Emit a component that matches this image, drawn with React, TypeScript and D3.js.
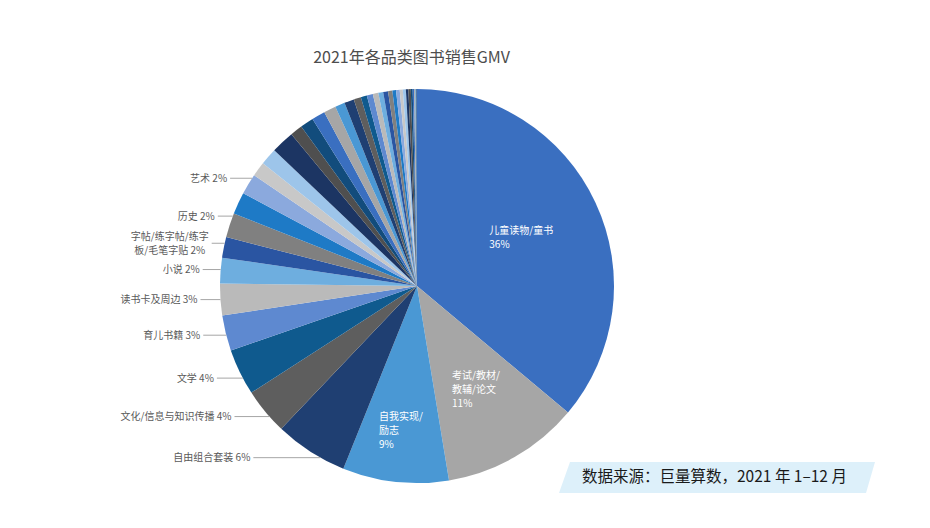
import { useEffect, useRef } from 'react';
import * as d3 from 'd3';

// =============================================================================
// Data
// =============================================================================

// '\n' marks where the label text wraps in the chart
const CATEGORIES = [
  '儿童读物/童书',
  '考试/教材/\n教辅/论文',
  '自我实现/\n励志',
  '自由组合套装',
  '文化/信息与知识传播',
  '文学',
  '育儿书籍',
  '读书卡及周边',
  '小说',
  '字帖/练字帖/练字\n板/毛笔字贴',
  '历史',
  '艺术',
  ...Array.from({ length: 28 }, (_, i) => `其他-${String(i + 1).padStart(2, '0')}`),
];

// GMV share, %
const GMV_SHARE = [
  36.1, 11.3, 8.7, 6.0, 3.8, 3.8, 2.9, 2.6, 2.1, 1.7, 2.0, 1.8, 1.7, 1.2,
  1.4, 1.9, 1.0, 1.1, 1.1, 1.0, 0.8, 0.8, 0.6, 0.5, 0.5, 0.45, 0.4, 0.4,
  0.35, 0.3, 0.3, 0.25, 0.25, 0.2, 0.2, 0.15, 0.12, 0.1, 0.08, 0.05,
];

const TITLE = '2021年各品类图书销售GMV';
const SOURCE = '数据来源：巨量算数，2021 年 1–12 月';

// =============================================================================
// Constants
// =============================================================================

const WIDTH = 930;
const HEIGHT = 528;
const CX = 417;
const CY = 286;
const R = 197;

const PALETTE = [
  '#3A6FC0', '#A6A6A6', '#4A98D4', '#1F3F72', '#5E5E5E', '#0F5A8E',
  '#5E89D0', '#BABABA', '#6EAEDF', '#2A55A2', '#808080', '#1E7AC6',
  '#8BA9DD', '#C8C8C8', '#9DC5EA', '#1C3563', '#4F4F4F', '#124C7C',
];

const FONT = '"Noto Sans CJK SC", "Noto Sans", sans-serif';
const TEXT_GREY = '#595959';

// label placement: first slices are labelled inside, the next ones outside
const INNER_LABEL_RADIUS = [0.584, 0.604, 0.74];
// [vertical nudge, leader length] for outside labels
const OUTER_LABEL_LAYOUT: [number, number][] = [
  [6, 67], [5, 35], [6, 26], [2, 23], [0, 20], [-1, 18], [-4, 13], [-9, 15], [-25, 22],
];

// =============================================================================
// Component
// =============================================================================

export default function App() {
  const svgRef = useRef<SVGSVGElement>(null);

  useEffect(() => {
    if (!svgRef.current) return;
    const svg = d3.select(svgRef.current);
    svg.selectAll('*').remove();

    svg.append('rect').attr('width', WIDTH).attr('height', HEIGHT).attr('fill', '#fff');

    const color = d3.scaleOrdinal<number, string>().range(PALETTE);

    const pie = d3
      .pie<number>()
      .sort(null)
      .value((d) => d);
    const arcs = pie(GMV_SHARE);

    const arc = d3.arc<d3.PieArcDatum<number>>().innerRadius(0).outerRadius(R);

    const g = svg.append('g').attr('transform', `translate(${CX},${CY})`);

    g.selectAll('path.slice')
      .data(arcs)
      .enter()
      .append('path')
      .attr('class', 'slice')
      .attr('d', arc)
      .attr('fill', (_, i) => color(i));

    // Inside labels
    INNER_LABEL_RADIUS.forEach((f, i) => {
      const a = arcs[i];
      const [x, y] = d3
        .arc<d3.PieArcDatum<number>>()
        .innerRadius(R * f)
        .outerRadius(R * f)
        .centroid(a);
      const lines = [...CATEGORIES[i].split('\n'), `${Math.round(GMV_SHARE[i])}%`];
      const lh = 14;
      const t = g
        .append('text')
        .attr('font-family', FONT)
        .attr('font-size', 10)
        .attr('fill', '#fff');
      const spans = lines.map((l, k) =>
        t
          .append('tspan')
          .attr('y', y - ((lines.length - 1) * lh) / 2 + k * lh + 3.5)
          .text(l),
      );
      const w = d3.max(spans, (s) => (s.node() as SVGTSpanElement).getComputedTextLength()) ?? 0;
      spans.forEach((s) => s.attr('x', x - w / 2));
    });

    // Outside labels with leader lines
    const n0 = INNER_LABEL_RADIUS.length;
    OUTER_LABEL_LAYOUT.forEach(([dy, leader], j) => {
      const i = n0 + j;
      const a = arcs[i];
      const mid = (a.startAngle + a.endAngle) / 2;
      const y = -R * Math.cos(mid) + dy;
      const edgeX = -Math.sqrt(R * R - y * y);
      const x0 = edgeX - leader;

      g.append('line')
        .attr('x1', x0)
        .attr('x2', edgeX)
        .attr('y1', y)
        .attr('y2', y)
        .attr('stroke', '#A6A6A6')
        .attr('stroke-width', 1);

      const lines = CATEGORIES[i].split('\n');
      lines[lines.length - 1] += ` ${Math.round(GMV_SHARE[i])}%`;
      const lh = 14;
      const t = g
        .append('text')
        .attr('font-family', FONT)
        .attr('font-size', 10)
        .attr('fill', TEXT_GREY);
      const spans = lines.map((l, k) =>
        t
          .append('tspan')
          .attr('y', y - ((lines.length - 1) * lh) / 2 + k * lh + 3.5)
          .text(l),
      );
      const right = x0 - 3;
      if (lines.length === 1) {
        t.attr('text-anchor', 'end');
        spans[0].attr('x', right);
      } else {
        const w = d3.max(spans, (s) => (s.node() as SVGTSpanElement).getComputedTextLength()) ?? 0;
        t.attr('text-anchor', 'middle');
        spans.forEach((s) => s.attr('x', right - w / 2));
      }
    });

    // Title
    svg
      .append('text')
      .attr('x', 411.5)
      .attr('y', 63)
      .attr('text-anchor', 'middle')
      .attr('font-family', FONT)
      .attr('font-size', 16)
      .attr('fill', '#4D4D4D')
      .text(TITLE);

    // Source box
    svg
      .append('polygon')
      .attr('points', '570,462 875,462 866,493 559,493')
      .attr('fill', '#DDF0FA');

    svg
      .append('text')
      .attr('x', 582)
      .attr('y', 482)
      .attr('font-family', FONT)
      .attr('font-size', 15.5)
      .attr('fill', '#1A1A1A')
      .text(SOURCE);
  }, []);

  return (
    <svg
      ref={svgRef}
      width={WIDTH}
      height={HEIGHT}
      style={{ position: 'absolute', left: 0, top: 0 }}
    />
  );
}
